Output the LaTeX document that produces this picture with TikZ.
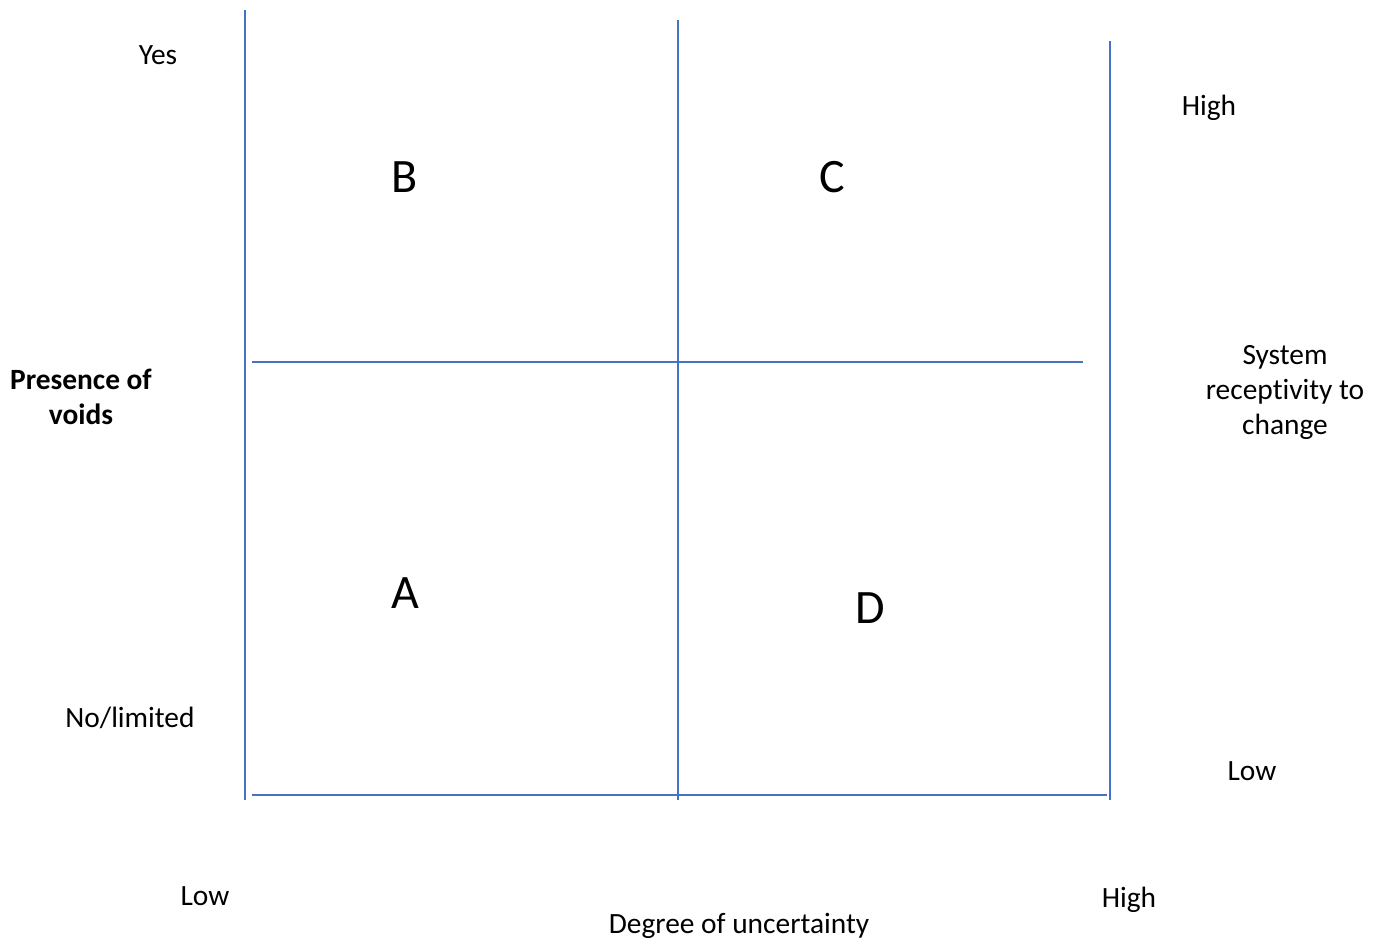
\documentclass[tikz,border=0pt]{standalone}
\usepackage{fontspec}
\setmainfont{Carlito}[Ligatures=CommonOff]
\usepackage{tikz}
\usetikzlibrary{positioning}
\definecolor{gridblue}{HTML}{4472C4}

\tikzset{
  gridline/.style={draw=gridblue, line width=1.4pt},
  axislabel/.style={anchor=base, inner sep=0pt, align=center,
                    font=\fontsize{29.4}{35}\selectfont},
  quadlabel/.style={anchor=base, inner sep=0pt,
                    font=\fontsize{48}{54}\selectfont}
}

\begin{document}
\begin{tikzpicture}[x=1pt, y=-1pt]
\useasboundingbox (0,0) rectangle (1381,940);

% grid end points
\coordinate (lefttop) at (245,10);
\coordinate (leftbot) at (245,800);
\coordinate (midtop) at (678,20);
\coordinate (midbot) at (678,800);
\coordinate (righttop) at (1110,41);
\coordinate (rightbot) at (1110,800);
\coordinate (hmidl) at (252,362);
\coordinate (hmidr) at (1083,362);
\coordinate (hbotl) at (252,795);
\coordinate (hbotr) at (1107,795);

\draw[gridline] (lefttop) -- (leftbot);
\draw[gridline] (midtop) -- (midbot);
\draw[gridline] (righttop) -- (rightbot);
\draw[gridline] (hmidl) -- (hmidr);
\draw[gridline] (hbotl) -- (hbotr);

% quadrants
\node[quadlabel] (qb) at (405,192) {B};
\node[quadlabel] (qc) at (832,192) {C};
\node[quadlabel] (qa) at (405,608) {A};
\node[quadlabel] (qd) at (870,623) {D};

% left axis
\node[axislabel] (yes) at (158,64) {Yes};
\node[axislabel] (nolim) at (130,727) {No/limited};
\node[axislabel, font=\fontsize{29.4}{35}\selectfont\bfseries] (voids) at (81,424) {Presence of\\voids};

% right axis
\node[axislabel] (rhigh) at (1209,115) {High};
\node[axislabel] (recept) at (1285,434) {System\\receptivity to\\change};
\node[axislabel] (rlow) at (1252,780) {Low};

% bottom axis
\node[axislabel] (blow) at (205,905) {Low};
\node[axislabel] (bhigh) at (1129,907) {High};
\node[axislabel] (uncert) at (739,933) {Degree of uncertainty};
\end{tikzpicture}
\end{document}
